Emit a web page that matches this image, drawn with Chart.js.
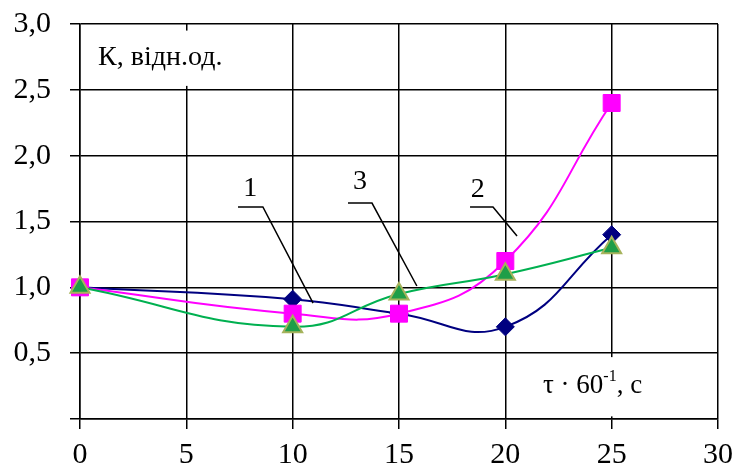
<!DOCTYPE html>
<html>
<head>
<meta charset="utf-8">
<script src="https://cdn.jsdelivr.net/npm/chart.js@4"></script>
<style>
  html, body { margin: 0; padding: 0; background: #fff; }
  #wrap { width: 734px; height: 470px; }
</style>
</head>
<body>
<div id="wrap"><canvas id="chart"></canvas></div>
<script>
// дані
const times = [0, 10, 15, 20, 25];
const curve1 = [1.0, 0.91, 0.8, 0.7, 1.4];
const curve2 = [1.0, 0.8, 0.8, 1.2, 2.4];
const curve3 = [1.0, 0.7, 0.95, 1.1, 1.3];
const xTickValues = [0, 5, 10, 15, 20, 25, 30];
const yTickValues = [0, 0.5, 1.0, 1.5, 2.0, 2.5, 3.0];
const curveNames = ['1', '2', '3'];

const FONT = "'Liberation Serif', 'Times New Roman', serif";
Chart.defaults.font.family = FONT;
Chart.defaults.color = '#000';

const toPoints = ys => times.map((t, i) => ({ x: t, y: ys[i] }));

// підписи кривих з виносками (в одиницях осей)
const callouts = [
  { text: '1', at: [8.0, 1.75], line: [[7.43, 1.61], [8.6, 1.61], [10.96, 0.88]] },
  { text: '3', at: [13.17, 1.80], line: [[12.6, 1.64], [13.73, 1.64], [15.84, 1.01]] },
  { text: '2', at: [18.7, 1.74], line: [[18.34, 1.61], [19.42, 1.61], [20.55, 1.39]] }
];

const notes = {
  id: 'notes',
  beforeDatasetsDraw(chart) {
    const { ctx, scales: { x, y } } = chart;
    ctx.save();
    ctx.fillStyle = '#fff';
    // білі підкладки під написами осей
    [[0.4, 2.95, 7.5, 2.53], [20.8, 0.47, 29.15, 0.02]].forEach(([x0, y0, x1, y1]) => {
      const px0 = x.getPixelForValue(x0), py0 = y.getPixelForValue(y0);
      ctx.fillRect(px0, py0, x.getPixelForValue(x1) - px0, y.getPixelForValue(y1) - py0);
    });
    ctx.restore();
  },
  afterDatasetsDraw(chart) {
    const { ctx, scales: { x, y } } = chart;
    ctx.save();
    ctx.fillStyle = '#000';
    ctx.textBaseline = 'alphabetic';

    ctx.font = '28px ' + FONT;
    ctx.fillText('К, відн.од.', x.getPixelForValue(0.85), y.getPixelForValue(2.69));

    let tx = x.getPixelForValue(21.77);
    const ty = y.getPixelForValue(0.2);
    ctx.font = '27px ' + FONT;
    ctx.fillText('τ · 60', tx, ty);
    tx += ctx.measureText('τ · 60').width;
    ctx.font = '16px ' + FONT;
    ctx.fillText('-1', tx, ty - 12);
    tx += ctx.measureText('-1').width;
    ctx.font = '27px ' + FONT;
    ctx.fillText(', с', tx, ty);

    ctx.strokeStyle = '#000';
    ctx.lineWidth = 1.5;
    ctx.font = '28px ' + FONT;
    ctx.textAlign = 'center';
    ctx.textBaseline = 'middle';
    callouts.forEach(c => {
      ctx.fillText(c.text, x.getPixelForValue(c.at[0]), y.getPixelForValue(c.at[1]));
      ctx.beginPath();
      c.line.forEach(([vx, vy], i) => {
        const px = x.getPixelForValue(vx), py = y.getPixelForValue(vy);
        if (i === 0) ctx.moveTo(px, py); else ctx.lineTo(px, py);
      });
      ctx.stroke();
    });
    ctx.restore();
  }
};

const grid = { color: '#000', lineWidth: 1.5, tickLength: 10, drawTicks: true };

new Chart(document.getElementById('chart'), {
  type: 'line',
  data: {
    datasets: [
      {
        label: curveNames[0],
        data: toPoints(curve1),
        borderColor: '#000080',
        backgroundColor: '#000080',
        borderWidth: 2,
        pointStyle: 'rectRot',
        pointRadius: 9,
        pointBorderWidth: 1,
        tension: 0.45,
        clip: false,
        order: 3
      },
      {
        label: curveNames[1],
        data: toPoints(curve2),
        borderColor: '#ff00ff',
        backgroundColor: '#ff00ff',
        borderWidth: 2,
        pointStyle: 'rect',
        pointRadius: 12,
        pointBorderWidth: 1,
        tension: 0.45,
        clip: false,
        order: 2
      },
      {
        label: curveNames[2],
        data: toPoints(curve3),
        borderColor: '#00b050',
        backgroundColor: '#1f9e48',
        pointBorderColor: '#a6b35c',
        borderWidth: 2,
        pointStyle: 'triangle',
        pointRadius: 11,
        pointBorderWidth: 2,
        tension: 0.45,
        clip: false,
        order: 1
      }
    ]
  },
  options: {
    responsive: true,
    maintainAspectRatio: false,
    animation: false,
    layout: { padding: { top: 24, right: 16, left: 0, bottom: 0 } },
    plugins: { legend: { display: false }, tooltip: { enabled: false } },
    scales: {
      x: {
        type: 'linear',
        min: 0,
        max: 30,
        afterBuildTicks: s => { s.ticks = xTickValues.map(v => ({ value: v })); },
        afterFit: s => { s.height = 51; s.paddingLeft = 0; s.paddingRight = 0; },
        ticks: { font: { size: 30 }, padding: 8, maxRotation: 0 },
        grid,
        border: { color: '#000', width: 1.5 }
      },
      y: {
        min: 0,
        max: 3,
        afterBuildTicks: s => { s.ticks = yTickValues.map(v => ({ value: v })); },
        afterFit: s => { s.width = 80; s.paddingTop = 0; s.paddingBottom = 0; },
        ticks: {
          font: { size: 30 },
          padding: 19,
          callback: v => v === 0 ? '' : v.toFixed(1).replace('.', ',')
        },
        grid,
        border: { color: '#000', width: 1.5 }
      }
    }
  },
  plugins: [notes]
});
</script>
</body>
</html>
